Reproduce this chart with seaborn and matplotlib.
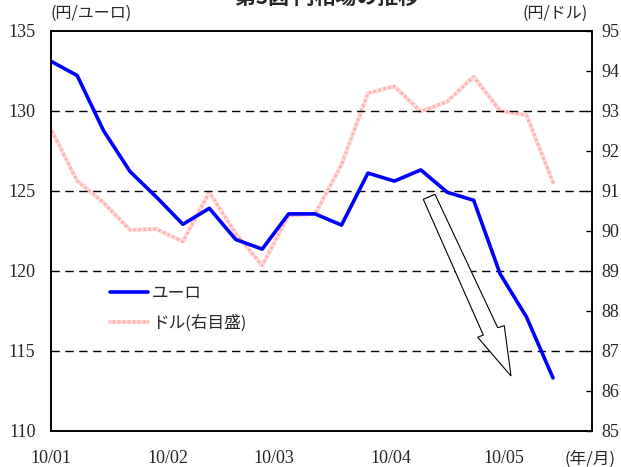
import numpy as np
import pandas as pd
import matplotlib
matplotlib.use("Agg")
import matplotlib.pyplot as plt
import matplotlib.dates as mdates
import matplotlib.patches as mpatches
from matplotlib.legend_handler import HandlerTuple
import seaborn as sns

# weekly closes, Jan-May 2010
dates = pd.date_range("2010-01-01", periods=20, freq="7D")
euro = [133.1, 132.2, 128.75, 126.2, 124.6, 122.9, 123.9, 121.95, 121.35, 123.55,
        123.55, 122.85, 126.1, 125.6, 126.3, 124.9, 124.4, 119.8, 117.1, 113.3]
dollar = [92.55, 91.25, 90.7, 90.02, 90.04, 89.73, 90.96, 89.93, 89.13, 90.38,
          90.42, 91.65, 93.44, 93.61, 92.98, 93.23, 93.85, 93.0, 92.89, 91.21]
labels = ["ユーロ", "ドル(右目盛)"]

JP = ["Noto Sans CJK JP", "DejaVu Sans"]

sns.set_style("white")
plt.rcParams["font.family"] = "serif"
plt.rcParams["font.serif"] = ["Liberation Serif", "DejaVu Serif"]

W, H = 621, 467
fig = plt.figure(figsize=(W / 100, H / 100), dpi=100)
ax = fig.add_axes([50.7 / W, 1 - 430.7 / H, 541 / W, 400 / H])
ax2 = ax.twinx()

df = pd.DataFrame({"date": dates, "euro": euro, "dollar": dollar})

# dollar: pink line with a striped texture
sns.lineplot(data=df, x="date", y="dollar", ax=ax2, color="#ffb4b4", lw=2.6, legend=False)
sns.lineplot(data=df, x="date", y="dollar", ax=ax2, color="#ffdcdc", lw=2.6, legend=False)
ax2.lines[1].set_dashes([0.7, 0.7])

sns.lineplot(data=df, x="date", y="euro", ax=ax, color="#0000ff", lw=2.6, legend=False)
ax.set_zorder(ax2.get_zorder() + 1)
ax.patch.set_visible(False)

ax.set_xlim(pd.Timestamp("2010-01-01"), pd.Timestamp("2010-05-24 06:00"))
ax.set_ylim(110, 135)
ax2.set_ylim(85, 95)
ax.set_yticks(np.arange(110, 136, 5))
ax2.set_yticks(np.arange(85, 96, 1))
ax.set_xlabel("")
ax.set_ylabel("")
ax2.set_ylabel("")

for y in [115, 120, 125, 130]:
    ax.axhline(y, color="black", lw=1, dashes=(6, 4), zorder=0)

ax.xaxis.set_major_locator(mdates.MonthLocator())
ax.xaxis.set_major_formatter(mdates.DateFormatter("%y/%m"))
ax.tick_params(axis="x", direction="in", length=4, width=1, pad=14, labelsize=13, color="black")
ax.tick_params(axis="y", length=0, pad=11, labelsize=13)
ax2.tick_params(axis="y", direction="in", length=4, width=1, pad=7, labelsize=13, color="black")

for a in (ax, ax2):
    for s in a.spines.values():
        s.set_color("black")
        s.set_linewidth(1.2)

# legend
handles = [ax.lines[0], (ax2.lines[0], ax2.lines[1])]
fig.legend(handles, labels, loc="upper left", bbox_to_anchor=(110 / W, 1 - 285 / H),
           frameon=False, borderpad=0, borderaxespad=0, handlelength=2.3,
           handletextpad=0.2, labelspacing=0.75,
           handler_map={tuple: HandlerTuple(ndivide=1, pad=0)},
           prop={"family": JP, "size": 12})

# unit labels
fig.text(91 / W, 1 - 13 / H, "(円/ユーロ)", family=JP, fontsize=11.5, ha="center", va="center")
fig.text(555 / W, 1 - 13 / H, "(円/ドル)", family=JP, fontsize=11.5, ha="center", va="center")
fig.text(590 / W, 1 - 459 / H, "(年/月)", family=JP, fontsize=12, ha="center", va="center")
fig.text(327 / W, 1 - 4 / H, "第3図 円相場の推移", family=JP, fontsize=15,
         fontweight="bold", ha="center", va="baseline")

# hollow arrow
pts = [(423.3, 199.3), (483.3, 335), (477.7, 337.3), (511, 376),
       (504.3, 325.7), (497.7, 327.7), (435, 194.3)]
arrow = mpatches.Polygon([(x / W, 1 - y / H) for x, y in pts], closed=True,
                         transform=fig.transFigure, fc="white", ec="black", lw=0.8, zorder=5)
fig.patches.append(arrow)

fig.savefig("out.png", dpi=100)
